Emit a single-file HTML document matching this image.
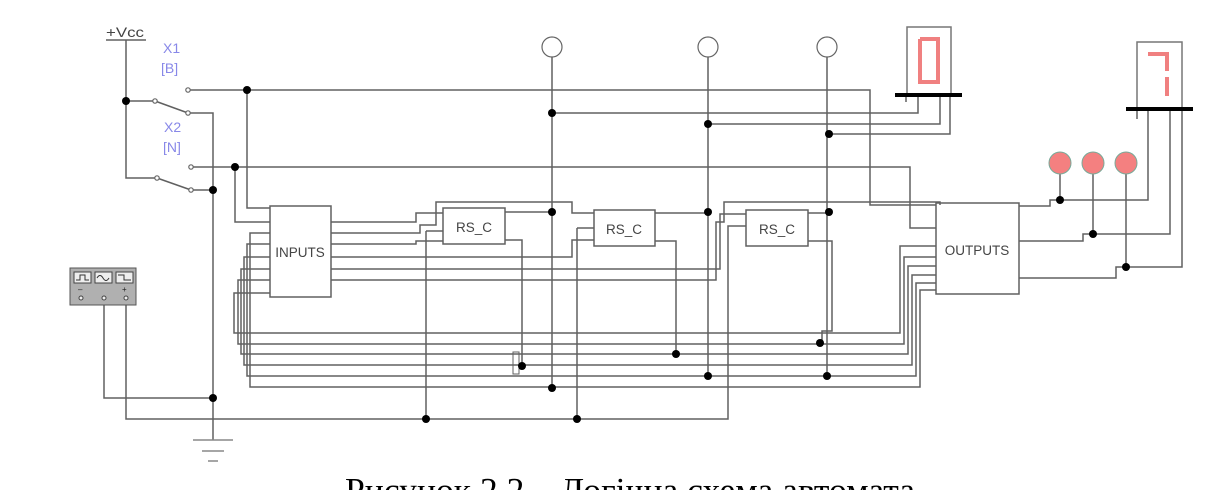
<!DOCTYPE html>
<html><head><meta charset="utf-8"><style>
html,body{margin:0;padding:0;background:#fff;overflow:hidden}
svg{display:block}
</style></head><body>
<svg width="1231" height="490" viewBox="0 0 1231 490" xmlns="http://www.w3.org/2000/svg" font-family="Liberation Sans, sans-serif">
<g stroke="#606060" stroke-width="1.5" fill="none">
<line x1="106" y1="40" x2="146" y2="40"/>
<polyline points="126,40 126,178 155,178"/>
<line x1="126" y1="101" x2="153" y2="101"/>
<line x1="155" y1="101" x2="188" y2="113"/>
<line x1="157" y1="178" x2="191" y2="190"/>
<polyline points="190,90 870,90 870,205 936,205"/>
<polyline points="191,167 910,167 910,228 936,228"/>
<polyline points="190,113 213,113 213,440"/>
<line x1="191" y1="190" x2="213" y2="190"/>
<polyline points="247,90 247,208 270,208"/>
<polyline points="235,167 235,222 270,222"/>
<line x1="193" y1="440" x2="233" y2="440" stroke="#888"/>
<line x1="202" y1="451" x2="224" y2="451" stroke="#888"/>
<line x1="208" y1="461" x2="218" y2="461" stroke="#888"/>
<polyline points="104,305 104,398 213,398"/>
<polyline points="126,305 126,419 728,419 728,226 746,226"/>
<rect x="270" y="206" width="61" height="91" fill="#fff"/>
<rect x="443" y="208" width="62" height="36" fill="#fff"/>
<rect x="594" y="210" width="61" height="36" fill="#fff"/>
<rect x="746" y="210" width="62" height="36" fill="#fff"/>
<rect x="936" y="203" width="83" height="91" fill="#fff"/>
<polyline points="331,222 416,222 416,213 443,213"/>
<polyline points="331,233 420,233 420,225 436,225 436,202 572,202 572,213 594,213"/>
<polyline points="331,244 416,244 416,241 443,241"/>
<polyline points="331,257 572,257 572,240 594,240"/>
<polyline points="331,269 720,269 720,214 746,214"/>
<polyline points="331,280 716,280 716,222 724,222 724,202 940,202 940,205"/>
<line x1="426" y1="231" x2="443" y2="231"/>
<polyline points="426,231 426,419"/>
<polyline points="577,228 594,228"/>
<polyline points="577,228 577,419"/>
<polyline points="270,233 250,233 250,387 920,387 920,290 936,290"/>
<polyline points="270,244 247,244 247,376 916,376 916,283 936,283"/>
<polyline points="270,257 244,257 244,365 912,365 912,275 936,275"/>
<polyline points="270,269 241,269 241,354 908,354 908,266 936,266"/>
<polyline points="270,280 238,280 238,344 904,344 904,257 936,257"/>
<polyline points="270,293 234,293 234,333 900,333 900,246 936,246"/>
<polyline points="505,212 540,212 552,212"/>
<polyline points="505,240 522,240 522,366"/>
<rect x="513" y="352" width="6" height="22" stroke-width="1"/>
<polyline points="655,213 708,213"/>
<polyline points="655,241 676,241 676,354"/>
<polyline points="808,213 829,213"/>
<polyline points="808,241 832,241 832,331 822,331 822,343"/>
<line x1="552" y1="57" x2="552" y2="388"/>
<line x1="708" y1="57" x2="708" y2="376"/>
<line x1="827" y1="57" x2="827" y2="376"/>
<polyline points="552,113 918,113 918,95"/>
<polyline points="708,124 940,124 940,95"/>
<polyline points="829,134 950,134 950,95"/>
<line x1="906" y1="95" x2="906" y2="102"/>
<polyline points="1019,206 1050,206 1050,200 1148,200 1148,109"/>
<polyline points="1019,241 1083,241 1083,234 1170,234 1170,109"/>
<polyline points="1019,278 1116,278 1116,267 1182,267 1182,109"/>
<line x1="1060" y1="174" x2="1060" y2="200"/>
<line x1="1093" y1="174" x2="1093" y2="234"/>
<line x1="1126" y1="174" x2="1126" y2="267"/>
<line x1="1137" y1="109" x2="1137" y2="119"/>
<rect x="907" y="27" width="44" height="68" stroke="#777"/>
<rect x="1137" y="42" width="45" height="67" stroke="#777"/>
</g>
<g fill="#fff" stroke="#666" stroke-width="1.2">
<circle cx="552" cy="47" r="10"/><circle cx="708" cy="47" r="10"/><circle cx="827" cy="47" r="10"/>
<circle cx="155" cy="101" r="2.2"/><circle cx="188" cy="113" r="2.2"/><circle cx="188" cy="90" r="2.2"/>
<circle cx="157" cy="178" r="2.2"/><circle cx="191" cy="190" r="2.2"/><circle cx="191" cy="167" r="2.2"/>
</g>
<g fill="#f48080" stroke="#7a9">
<circle cx="1060" cy="163" r="11"/><circle cx="1093" cy="163" r="11"/><circle cx="1126" cy="163" r="11"/>
</g>
<g stroke="#000" stroke-width="4">
<line x1="895" y1="95" x2="962" y2="95"/>
<line x1="1126" y1="109" x2="1193" y2="109"/>
</g>
<g stroke="#f08080" stroke-width="4" fill="none">
<polyline points="920,39 938,39 938,60 938,82 920,82 920,60 920,39"/>
<polyline points="1148,54 1167,54 1167,71"/>
<line x1="1167" y1="77" x2="1167" y2="96"/>
</g>
<g fill="#000">
<circle cx="126" cy="101" r="4"/><circle cx="247" cy="90" r="4"/><circle cx="235" cy="167" r="4"/>
<circle cx="213" cy="190" r="4"/><circle cx="213" cy="398" r="4"/><circle cx="426" cy="419" r="4"/>
<circle cx="577" cy="419" r="4"/><circle cx="552" cy="212" r="4"/><circle cx="708" cy="212" r="4"/>
<circle cx="829" cy="212" r="4"/><circle cx="552" cy="113" r="4"/><circle cx="708" cy="124" r="4"/>
<circle cx="829" cy="134" r="4"/><circle cx="552" cy="388" r="4"/><circle cx="708" cy="376" r="4"/>
<circle cx="827" cy="376" r="4"/><circle cx="676" cy="354" r="4"/><circle cx="820" cy="343" r="4"/>
<circle cx="522" cy="366" r="4"/>
<circle cx="1060" cy="200" r="4"/><circle cx="1093" cy="234" r="4"/><circle cx="1126" cy="267" r="4"/>
</g>
<rect x="70" y="268" width="66" height="37" fill="#b0b0b0" stroke="#555"/>
<g fill="#eee" stroke="#444" stroke-width="1">
<rect x="74" y="272" width="17" height="11"/><rect x="95" y="272" width="17" height="11"/><rect x="116" y="272" width="17" height="11"/>
<circle cx="81" cy="298" r="2"/><circle cx="104" cy="298" r="2"/><circle cx="126" cy="298" r="2"/>
</g>
<g stroke="#333" fill="none" stroke-width="1">
<polyline points="76,280 80,280 80,275 85,275 85,280 89,280"/>
<path d="M97,278 q3,-5 6,0 t6,0"/>
<polyline points="118,275 124,275 124,280 131,280"/>
</g>
<text x="78" y="292" font-size="8" fill="#222">–</text><text x="122" y="292" font-size="8" fill="#222">+</text>
<g fill="#444" font-size="13.5">
<text x="300" y="257" text-anchor="middle">INPUTS</text>
<text x="474" y="232" text-anchor="middle">RS_C</text>
<text x="624" y="234" text-anchor="middle">RS_C</text>
<text x="777" y="234" text-anchor="middle">RS_C</text>
<text x="977" y="255" text-anchor="middle">OUTPUTS</text>
<text x="106" y="37" font-size="14" textLength="38" lengthAdjust="spacingAndGlyphs">+Vcc</text>
</g>
<g fill="#8888e8" font-size="14">
<text x="163" y="53">X1</text><text x="161" y="73">[B]</text>
<text x="164" y="132">X2</text><text x="163" y="152">[N]</text>
</g>
<text x="345" y="502" font-family="Liberation Serif, serif" font-size="35" fill="#000" textLength="570" lengthAdjust="spacingAndGlyphs">Рисунок 2.2 – Логічна схема автомата</text>
</svg>
</body></html>
